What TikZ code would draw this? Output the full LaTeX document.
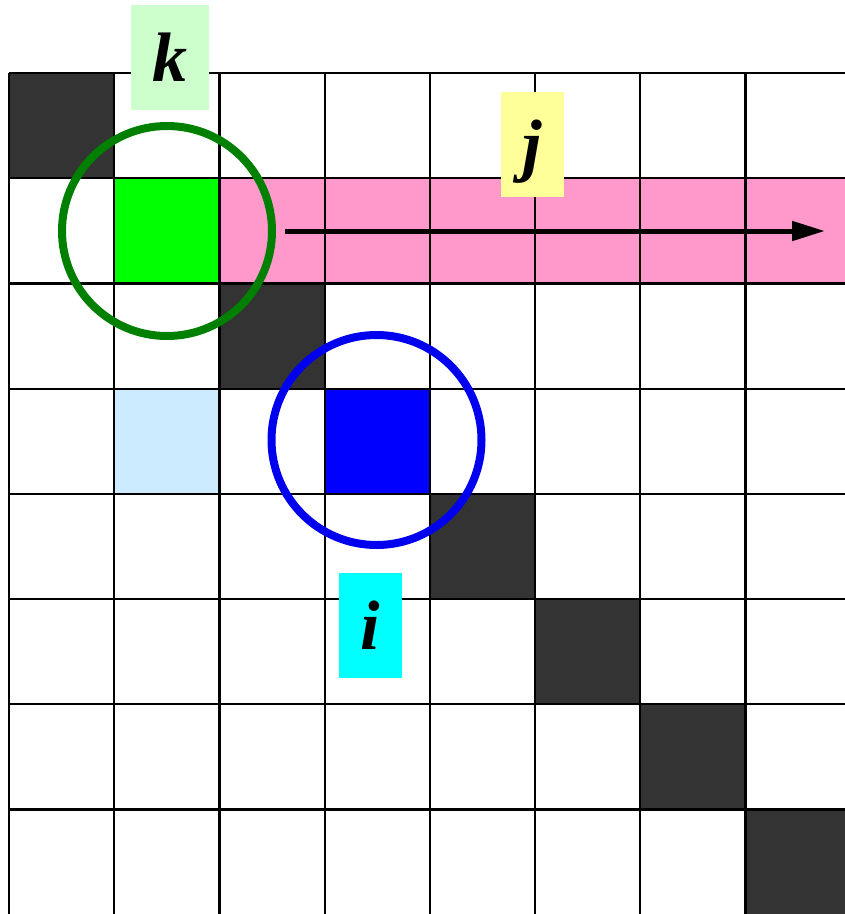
\documentclass[tikz,border=0pt]{standalone}
\usepackage{fontspec}
\setmainfont{Liberation Serif}
\usetikzlibrary{arrows.meta}
\definecolor{darkcell}{HTML}{333333}
\definecolor{pinkrow}{HTML}{FF99CC}
\definecolor{lightbluecell}{HTML}{CCEBFF}
\definecolor{kbox}{HTML}{CCFFCC}
\definecolor{jbox}{HTML}{FFFF99}
\definecolor{ibox}{HTML}{00FFFF}
\definecolor{kcircle}{HTML}{008000}
\definecolor{icircle}{HTML}{0000EE}
\tikzset{
  gridline/.style={black, line width=2.2pt},
  ring/.style={circle, draw=#1, line width=8pt, minimum size=210pt, inner sep=0pt},
  labelbox/.style={fill=#1, inner sep=0pt, minimum height=105pt, text height=48pt, text depth=0pt,
    font=\fontsize{70}{70}\selectfont\bfseries\itshape},
  arrowline/.style={line width=5pt, -{Triangle[length=33pt,width=19pt]}},
}
\begin{document}
\begin{tikzpicture}[x=1pt,y=-1pt]
\useasboundingbox (0,0) rectangle (845,914);
\clip (0,0) rectangle (845,914);
% cell fills
\foreach \c/\r in {0/0,2/2,4/4,5/5,6/6,7/7}
  \fill[darkcell] ({9+\c*105.2},{73+\r*105.2}) rectangle +(105.2,105.2);
\fill[pinkrow] ({9+2*105.2},{73+105.2}) rectangle ({860},{73+2*105.2});
\fill[green] ({9+105.2},{73+105.2}) rectangle +(105.2,105.2);
\fill[blue] ({9+3*105.2},{73+3*105.2}) rectangle +(105.2,105.2);
\fill[lightbluecell] ({9+105.2},{73+3*105.2}) rectangle +(105.2,105.2);
% grid
\foreach \i in {0,...,8} {
  \draw[gridline] ({9+\i*105.2},73) -- ({9+\i*105.2},930);
  \draw[gridline] (9,{73+\i*105.2}) -- (870,{73+\i*105.2});
}
% circles
\node[ring=kcircle] (kring) at (167,231) {};
\node[ring=icircle] (iring) at (376.5,440) {};
% arrow
\coordinate (arrowstart) at (285,231);
\coordinate (arrowend) at (825,231);
\draw[arrowline] (arrowstart) -- (arrowend);
% labels
\node[labelbox=kbox, minimum width=78pt] (klabel) at (170,57.5) {k};
\node[labelbox=jbox, minimum width=63pt] (jlabel) at (532.5,144) {j};
\node[labelbox=ibox, minimum width=63pt] (ilabel) at (370.5,625) {i};
\end{tikzpicture}
\end{document}
